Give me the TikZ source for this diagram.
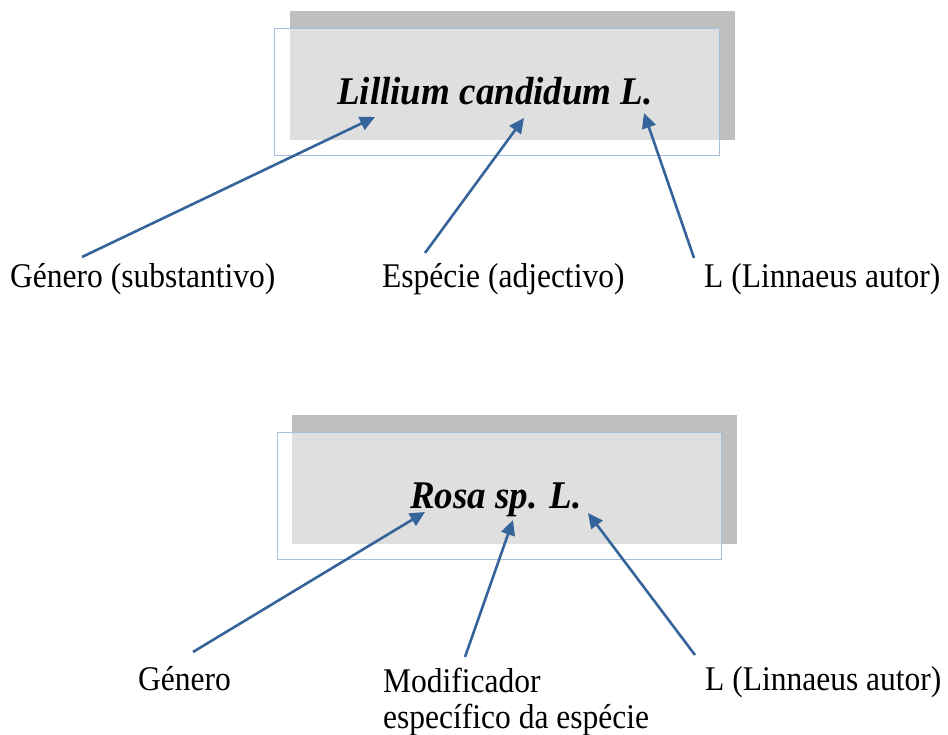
\documentclass[tikz,border=0pt]{standalone}
\usepackage{fontspec}
\setmainfont{Liberation Serif}
\usetikzlibrary{arrows.meta,positioning}
\definecolor{shadowgrey}{HTML}{BFBFBF}
\definecolor{frameblue}{HTML}{A6BFDD}
\definecolor{arrowblue}{HTML}{35649A}

\begin{document}
\begin{tikzpicture}[x=1pt,y=-1pt,
    shadow/.style={fill=shadowgrey},
    frame/.style={draw=frameblue,line width=0.9pt,fill=white,fill opacity=0.5},
    title/.style={font=\fontsize{37}{44}\selectfont\bfseries\itshape,inner sep=0pt,anchor=base,yscale=1.06,transform shape},
    lbl/.style={font=\fontsize{31.5}{32}\selectfont,inner sep=0pt,anchor=base west,align=left,yscale=1.1,transform shape},
    arr/.style={draw=arrowblue,line width=2.6pt,-{Triangle[length=15pt,width=14pt]}}]
\useasboundingbox (0,0) rectangle (948,735);

% Lillium box
\fill[shadow] (290,11) rectangle (735,140);
\draw[frame] (274,28) rectangle (719,155);
\node[title] (T1) at (495,105) {Lillium candidum L.};

\node[lbl] (L1) at (10,288) {Género (substantivo)};
\node[lbl] (L2) at (382,288) {Espécie (adjectivo)};
\node[lbl] (L3) at (704,288) {L (Linnaeus autor)};

% Rosa box
\fill[shadow] (292,415) rectangle (737,544);
\draw[frame] (277,432) rectangle (721,559);
\node[title] (T2) at (496,508) {Rosa sp. L.};

\node[lbl] (M1) at (138,690) {Género};
\node[lbl] (M2) at (383,728) {Modificador\\específico da espécie};
\node[lbl] (M3) at (705,690) {L (Linnaeus autor)};

% arrow ends
\foreach \n/\x/\y in {a1/82/257, a2/425/253, a3/694/258, b1/193/652, b2/465/657, b3/695/655}
  \coordinate (\n) at (\x,\y);
\foreach \n/\x/\y in {p1/375/117, p2/524/118, p3/644/113, q1/425/512, q2/513/520, q3/588/513}
  \coordinate (\n) at (\x,\y);

\foreach \i in {1,2,3}
  {\draw[arr] (a\i) -- (p\i);
   \draw[arr] (b\i) -- (q\i);}
\end{tikzpicture}
\end{document}
